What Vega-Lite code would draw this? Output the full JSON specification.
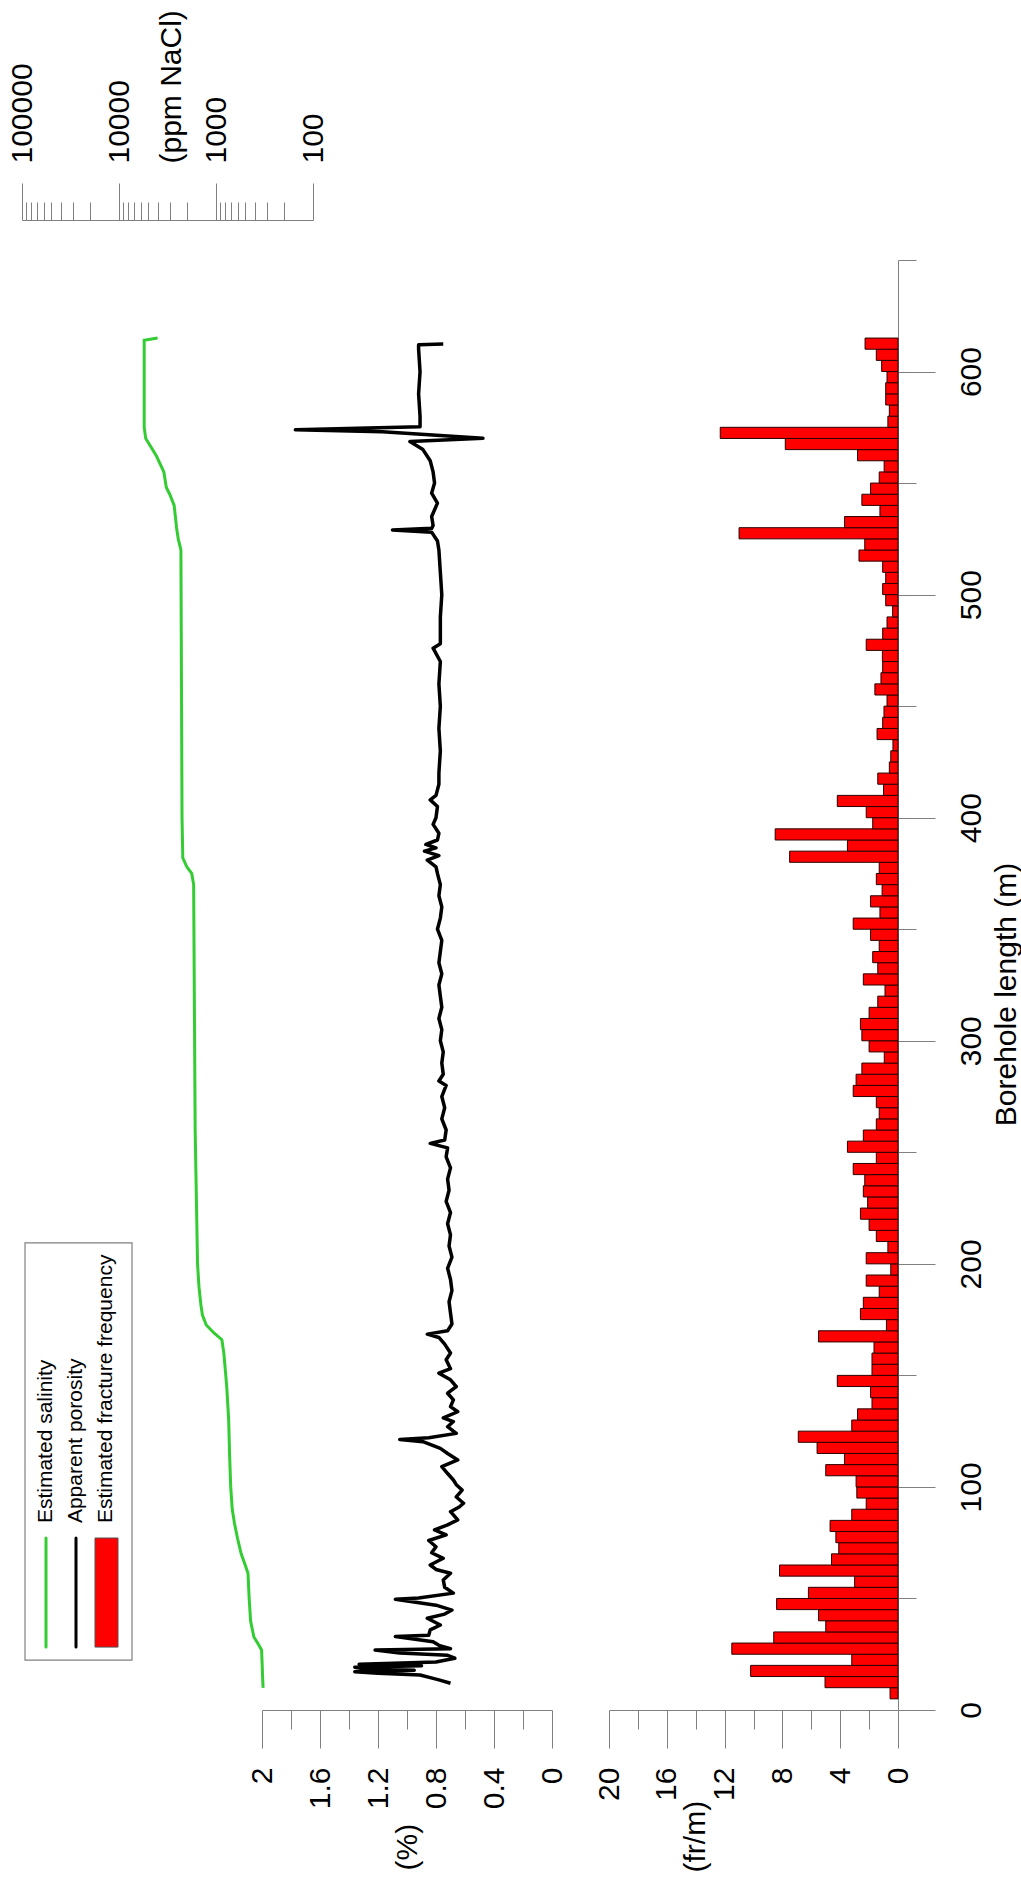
{
  "$schema": "https://vega.github.io/schema/vega-lite/v6.json",
  "width": 898,
  "height": 1450,
  "autosize": {"type": "none"},
  "padding": {"left": 0, "top": 260, "right": 123, "bottom": 169},
  "background": "white",
  "config": {
    "font": "Liberation Sans",
    "view": {"stroke": null},
    "axis": {
      "grid": false,
      "domainColor": "#808080",
      "tickColor": "#808080",
      "domainWidth": 1,
      "tickWidth": 1,
      "labelColor": "#000000",
      "titleColor": "#000000",
      "labelFontSize": 30,
      "titleFontSize": 30,
      "titleFontWeight": "normal",
      "labelFont": "Liberation Sans",
      "titleFont": "Liberation Sans",
      "labelOverlap": false,
      "labelFlush": false,
      "labelBound": false
    }
  },
  "datasets": {
    "salinity": [
      {"depth": 9.9, "ppm": 327}, {"depth": 15, "ppm": 331}, {"depth": 20, "ppm": 334}, {"depth": 26.9, "ppm": 339},
      {"depth": 30, "ppm": 372}, {"depth": 32.7, "ppm": 407}, {"depth": 40, "ppm": 440}, {"depth": 50, "ppm": 455},
      {"depth": 61.3, "ppm": 468}, {"depth": 65, "ppm": 500}, {"depth": 70, "ppm": 550}, {"depth": 77, "ppm": 600},
      {"depth": 83.7, "ppm": 645}, {"depth": 90, "ppm": 680}, {"depth": 100, "ppm": 705}, {"depth": 115, "ppm": 725},
      {"depth": 130, "ppm": 740}, {"depth": 145, "ppm": 775}, {"depth": 160, "ppm": 830}, {"depth": 166, "ppm": 870},
      {"depth": 169, "ppm": 1050}, {"depth": 172.6, "ppm": 1260}, {"depth": 177, "ppm": 1380}, {"depth": 181.5, "ppm": 1430},
      {"depth": 190, "ppm": 1500}, {"depth": 200, "ppm": 1550}, {"depth": 260, "ppm": 1640}, {"depth": 370, "ppm": 1700},
      {"depth": 375, "ppm": 1780}, {"depth": 378, "ppm": 2000}, {"depth": 382, "ppm": 2200}, {"depth": 400, "ppm": 2240},
      {"depth": 520, "ppm": 2300}, {"depth": 525, "ppm": 2450}, {"depth": 530, "ppm": 2550}, {"depth": 540, "ppm": 2700},
      {"depth": 545, "ppm": 3000}, {"depth": 548, "ppm": 3250}, {"depth": 555, "ppm": 3450}, {"depth": 562, "ppm": 4100},
      {"depth": 567, "ppm": 4800}, {"depth": 570, "ppm": 5300}, {"depth": 575, "ppm": 5500}, {"depth": 614, "ppm": 5500},
      {"depth": 615, "ppm": 4000}
    ],
    "porosity": [
      {"depth": 12.0, "pct": 0.70}, {"depth": 13.5, "pct": 0.78}, {"depth": 14.2, "pct": 0.82}, {"depth": 15.7, "pct": 0.91},
      {"depth": 16.5, "pct": 1.20}, {"depth": 17.2, "pct": 1.36}, {"depth": 17.8, "pct": 0.95}, {"depth": 18.5, "pct": 1.30},
      {"depth": 19.2, "pct": 1.36}, {"depth": 19.8, "pct": 0.90}, {"depth": 20.5, "pct": 1.33}, {"depth": 21.5, "pct": 0.80},
      {"depth": 23.2, "pct": 0.67}, {"depth": 24.5, "pct": 0.72}, {"depth": 25.5, "pct": 1.05}, {"depth": 26.9, "pct": 1.22},
      {"depth": 27.5, "pct": 0.70}, {"depth": 29, "pct": 0.78}, {"depth": 30.6, "pct": 0.82}, {"depth": 32.9, "pct": 1.08},
      {"depth": 33.5, "pct": 0.85}, {"depth": 35.9, "pct": 0.84}, {"depth": 38.1, "pct": 0.77}, {"depth": 41.1, "pct": 0.86},
      {"depth": 43, "pct": 0.74}, {"depth": 44.8, "pct": 0.69}, {"depth": 47, "pct": 0.80}, {"depth": 49.6, "pct": 1.08},
      {"depth": 50.2, "pct": 0.92}, {"depth": 52.4, "pct": 0.68}, {"depth": 55, "pct": 0.74}, {"depth": 58.3, "pct": 0.75},
      {"depth": 61.3, "pct": 0.70}, {"depth": 63, "pct": 0.80}, {"depth": 65, "pct": 0.84}, {"depth": 68, "pct": 0.75},
      {"depth": 70.5, "pct": 0.83}, {"depth": 73.2, "pct": 0.80}, {"depth": 76, "pct": 0.85}, {"depth": 78.5, "pct": 0.73},
      {"depth": 80.7, "pct": 0.81}, {"depth": 83, "pct": 0.72}, {"depth": 85.2, "pct": 0.65}, {"depth": 88.9, "pct": 0.70},
      {"depth": 91, "pct": 0.64}, {"depth": 92.7, "pct": 0.61}, {"depth": 95.5, "pct": 0.66}, {"depth": 98.6, "pct": 0.62},
      {"depth": 101, "pct": 0.66}, {"depth": 103.1, "pct": 0.68}, {"depth": 106, "pct": 0.72}, {"depth": 109.1, "pct": 0.76},
      {"depth": 112.1, "pct": 0.65}, {"depth": 115, "pct": 0.72}, {"depth": 117.3, "pct": 0.77}, {"depth": 120.3, "pct": 0.89},
      {"depth": 121.3, "pct": 1.05}, {"depth": 122, "pct": 0.85}, {"depth": 124, "pct": 0.66}, {"depth": 127, "pct": 0.72},
      {"depth": 129.3, "pct": 0.68}, {"depth": 131, "pct": 0.75}, {"depth": 133.7, "pct": 0.65}, {"depth": 136, "pct": 0.70},
      {"depth": 139, "pct": 0.68}, {"depth": 142, "pct": 0.72}, {"depth": 145, "pct": 0.66}, {"depth": 148, "pct": 0.70},
      {"depth": 151, "pct": 0.78}, {"depth": 153, "pct": 0.70}, {"depth": 157, "pct": 0.73}, {"depth": 160, "pct": 0.70},
      {"depth": 164, "pct": 0.74}, {"depth": 167, "pct": 0.78}, {"depth": 168.5, "pct": 0.86}, {"depth": 170, "pct": 0.72},
      {"depth": 173, "pct": 0.69}, {"depth": 178, "pct": 0.70}, {"depth": 183, "pct": 0.71}, {"depth": 188, "pct": 0.69},
      {"depth": 193, "pct": 0.70}, {"depth": 198, "pct": 0.72}, {"depth": 203, "pct": 0.69}, {"depth": 208, "pct": 0.71},
      {"depth": 213, "pct": 0.70}, {"depth": 218, "pct": 0.72}, {"depth": 223, "pct": 0.70}, {"depth": 228, "pct": 0.73},
      {"depth": 233, "pct": 0.71}, {"depth": 238, "pct": 0.72}, {"depth": 243, "pct": 0.70}, {"depth": 248, "pct": 0.73},
      {"depth": 252, "pct": 0.72}, {"depth": 254, "pct": 0.84}, {"depth": 255.5, "pct": 0.74}, {"depth": 260, "pct": 0.73},
      {"depth": 265, "pct": 0.76}, {"depth": 270, "pct": 0.74}, {"depth": 275, "pct": 0.76}, {"depth": 280, "pct": 0.73},
      {"depth": 282, "pct": 0.78}, {"depth": 285, "pct": 0.75}, {"depth": 290, "pct": 0.76}, {"depth": 295, "pct": 0.75},
      {"depth": 300, "pct": 0.77}, {"depth": 305, "pct": 0.76}, {"depth": 310, "pct": 0.78}, {"depth": 315, "pct": 0.76},
      {"depth": 320, "pct": 0.77}, {"depth": 325, "pct": 0.78}, {"depth": 330, "pct": 0.76}, {"depth": 335, "pct": 0.78},
      {"depth": 340, "pct": 0.77}, {"depth": 345, "pct": 0.76}, {"depth": 350, "pct": 0.79}, {"depth": 355, "pct": 0.77},
      {"depth": 360, "pct": 0.76}, {"depth": 365, "pct": 0.78}, {"depth": 370, "pct": 0.77}, {"depth": 375, "pct": 0.79},
      {"depth": 378, "pct": 0.80}, {"depth": 381, "pct": 0.86}, {"depth": 383, "pct": 0.78}, {"depth": 385, "pct": 0.88},
      {"depth": 386.5, "pct": 0.80}, {"depth": 388, "pct": 0.87}, {"depth": 390, "pct": 0.79}, {"depth": 393, "pct": 0.78},
      {"depth": 397, "pct": 0.82}, {"depth": 400, "pct": 0.80}, {"depth": 405, "pct": 0.79}, {"depth": 408, "pct": 0.84},
      {"depth": 410, "pct": 0.80}, {"depth": 415, "pct": 0.78}, {"depth": 420, "pct": 0.78}, {"depth": 430, "pct": 0.77},
      {"depth": 440, "pct": 0.78}, {"depth": 450, "pct": 0.77}, {"depth": 460, "pct": 0.78}, {"depth": 470, "pct": 0.77},
      {"depth": 476, "pct": 0.82}, {"depth": 478, "pct": 0.77}, {"depth": 490, "pct": 0.77}, {"depth": 500, "pct": 0.76},
      {"depth": 510, "pct": 0.77}, {"depth": 520, "pct": 0.78}, {"depth": 524, "pct": 0.79}, {"depth": 528, "pct": 0.83},
      {"depth": 529, "pct": 1.10}, {"depth": 529.7, "pct": 0.83}, {"depth": 531, "pct": 0.82}, {"depth": 535, "pct": 0.83},
      {"depth": 541, "pct": 0.79}, {"depth": 545.5, "pct": 0.83}, {"depth": 550, "pct": 0.81}, {"depth": 555, "pct": 0.82},
      {"depth": 560, "pct": 0.84}, {"depth": 565, "pct": 0.89}, {"depth": 568.6, "pct": 0.98}, {"depth": 570.1, "pct": 0.476},
      {"depth": 573.0, "pct": 1.17}, {"depth": 573.9, "pct": 1.77}, {"depth": 575.3, "pct": 0.91}, {"depth": 580, "pct": 0.91},
      {"depth": 590, "pct": 0.92}, {"depth": 600, "pct": 0.91}, {"depth": 610, "pct": 0.92}, {"depth": 612, "pct": 0.92},
      {"depth": 612.3, "pct": 0.75}
    ],
    "fracture": [
      {"d": 5, "d2": 10, "ff": 0.55}, {"d": 10, "d2": 15, "ff": 5.05}, {"d": 15, "d2": 20, "ff": 10.2}, {"d": 20, "d2": 25, "ff": 3.2},
      {"d": 25, "d2": 30, "ff": 11.5}, {"d": 30, "d2": 35, "ff": 8.6}, {"d": 35, "d2": 40, "ff": 5.0}, {"d": 40, "d2": 45, "ff": 5.5},
      {"d": 45, "d2": 50, "ff": 8.4}, {"d": 50, "d2": 55, "ff": 6.2}, {"d": 55, "d2": 60, "ff": 3.0}, {"d": 60, "d2": 65, "ff": 8.2},
      {"d": 65, "d2": 70, "ff": 4.6}, {"d": 70, "d2": 75, "ff": 4.1}, {"d": 75, "d2": 80, "ff": 4.3}, {"d": 80, "d2": 85, "ff": 4.7},
      {"d": 85, "d2": 90, "ff": 3.2}, {"d": 90, "d2": 95, "ff": 2.2}, {"d": 95, "d2": 100, "ff": 2.85}, {"d": 100, "d2": 105, "ff": 2.9},
      {"d": 105, "d2": 110, "ff": 5.0}, {"d": 110, "d2": 115, "ff": 3.7}, {"d": 115, "d2": 120, "ff": 5.6}, {"d": 120, "d2": 125, "ff": 6.9},
      {"d": 125, "d2": 130, "ff": 3.2}, {"d": 130, "d2": 135, "ff": 2.8}, {"d": 135, "d2": 140, "ff": 1.8}, {"d": 140, "d2": 145, "ff": 1.9},
      {"d": 145, "d2": 150, "ff": 4.2}, {"d": 150, "d2": 155, "ff": 1.8}, {"d": 155, "d2": 160, "ff": 1.8}, {"d": 160, "d2": 165, "ff": 1.66},
      {"d": 165, "d2": 170, "ff": 5.5}, {"d": 170, "d2": 175, "ff": 0.8}, {"d": 175, "d2": 180, "ff": 2.6}, {"d": 180, "d2": 185, "ff": 2.4},
      {"d": 185, "d2": 190, "ff": 1.3}, {"d": 190, "d2": 195, "ff": 2.2}, {"d": 195, "d2": 200, "ff": 0.5}, {"d": 200, "d2": 205, "ff": 2.2},
      {"d": 205, "d2": 210, "ff": 0.7}, {"d": 210, "d2": 215, "ff": 1.5}, {"d": 215, "d2": 220, "ff": 2.0}, {"d": 220, "d2": 225, "ff": 2.6},
      {"d": 225, "d2": 230, "ff": 2.1}, {"d": 230, "d2": 235, "ff": 2.4}, {"d": 235, "d2": 240, "ff": 2.3}, {"d": 240, "d2": 245, "ff": 3.1},
      {"d": 245, "d2": 250, "ff": 1.5}, {"d": 250, "d2": 255, "ff": 3.5}, {"d": 255, "d2": 260, "ff": 2.4}, {"d": 260, "d2": 265, "ff": 1.5},
      {"d": 265, "d2": 270, "ff": 1.3}, {"d": 270, "d2": 275, "ff": 1.5}, {"d": 275, "d2": 280, "ff": 3.1}, {"d": 280, "d2": 285, "ff": 2.9},
      {"d": 285, "d2": 290, "ff": 2.5}, {"d": 290, "d2": 295, "ff": 0.95}, {"d": 295, "d2": 300, "ff": 2.0}, {"d": 300, "d2": 305, "ff": 2.5},
      {"d": 305, "d2": 310, "ff": 2.6}, {"d": 310, "d2": 315, "ff": 2.0}, {"d": 315, "d2": 320, "ff": 1.4}, {"d": 320, "d2": 325, "ff": 0.9},
      {"d": 325, "d2": 330, "ff": 2.4}, {"d": 330, "d2": 335, "ff": 1.4}, {"d": 335, "d2": 340, "ff": 1.75}, {"d": 340, "d2": 345, "ff": 1.3},
      {"d": 345, "d2": 350, "ff": 1.9}, {"d": 350, "d2": 355, "ff": 3.1}, {"d": 355, "d2": 360, "ff": 1.25}, {"d": 360, "d2": 365, "ff": 1.9},
      {"d": 365, "d2": 370, "ff": 1.1}, {"d": 370, "d2": 375, "ff": 1.5}, {"d": 375, "d2": 380, "ff": 1.3}, {"d": 380, "d2": 385, "ff": 7.5},
      {"d": 385, "d2": 390, "ff": 3.5}, {"d": 390, "d2": 395, "ff": 8.5}, {"d": 395, "d2": 400, "ff": 1.75}, {"d": 400, "d2": 405, "ff": 2.2},
      {"d": 405, "d2": 410, "ff": 4.2}, {"d": 410, "d2": 415, "ff": 1.0}, {"d": 415, "d2": 420, "ff": 1.4}, {"d": 420, "d2": 425, "ff": 0.6},
      {"d": 425, "d2": 430, "ff": 0.5}, {"d": 430, "d2": 435, "ff": 0.35}, {"d": 435, "d2": 440, "ff": 1.45}, {"d": 440, "d2": 445, "ff": 1.06},
      {"d": 445, "d2": 450, "ff": 0.97}, {"d": 450, "d2": 455, "ff": 0.76}, {"d": 455, "d2": 460, "ff": 1.6}, {"d": 460, "d2": 465, "ff": 1.18},
      {"d": 465, "d2": 470, "ff": 1.06}, {"d": 470, "d2": 475, "ff": 1.08}, {"d": 475, "d2": 480, "ff": 2.2}, {"d": 480, "d2": 485, "ff": 1.06},
      {"d": 485, "d2": 490, "ff": 0.76}, {"d": 490, "d2": 495, "ff": 0.37}, {"d": 495, "d2": 500, "ff": 0.85}, {"d": 500, "d2": 505, "ff": 1.06},
      {"d": 505, "d2": 510, "ff": 0.85}, {"d": 510, "d2": 515, "ff": 1.06}, {"d": 515, "d2": 520, "ff": 2.7}, {"d": 520, "d2": 525, "ff": 2.3},
      {"d": 525, "d2": 530, "ff": 11.0}, {"d": 530, "d2": 535, "ff": 3.7}, {"d": 535, "d2": 540, "ff": 1.25}, {"d": 540, "d2": 545, "ff": 2.5},
      {"d": 545, "d2": 550, "ff": 1.9}, {"d": 550, "d2": 555, "ff": 1.3}, {"d": 555, "d2": 560, "ff": 0.96}, {"d": 560, "d2": 565, "ff": 2.8},
      {"d": 565, "d2": 570, "ff": 7.8}, {"d": 570, "d2": 575, "ff": 12.3}, {"d": 575, "d2": 580, "ff": 0.7}, {"d": 580, "d2": 585, "ff": 0.6},
      {"d": 585, "d2": 590, "ff": 0.85}, {"d": 590, "d2": 595, "ff": 0.85}, {"d": 595, "d2": 600, "ff": 0.76}, {"d": 600, "d2": 605, "ff": 1.13},
      {"d": 605, "d2": 610, "ff": 1.5}, {"d": 610, "d2": 615, "ff": 2.28}
    ],
    "legend": [
      {"part": "box", "lx": 0.3, "lx2": 3.867, "d": 22.4, "d2": 209.4},
      {"part": "sal", "lx": 1, "d": 28.2, "d2": 77.1},
      {"part": "por", "lx": 2, "d": 28.2, "d2": 77.1},
      {"part": "frac", "lx": 2.633, "lx2": 3.4, "d": 28.2, "d2": 77.1},
      {"part": "text", "lx": 1, "d": 83.8, "label": "Estimated salinity"},
      {"part": "text", "lx": 2, "d": 83.8, "label": "Apparent porosity"},
      {"part": "text", "lx": 3, "d": 83.8, "label": "Estimated fracture frequency"}
    ]
  },
  "layer": [
    {
      "data": {"name": "salinity"},
      "mark": {"type": "line", "color": "#33cc33", "strokeWidth": 3},
      "encoding": {
        "x": {
          "field": "ppm", "type": "quantitative",
          "scale": {"type": "log", "domain": [100, 100000], "range": [313, 22]},
          "axis": {
            "orient": "top", "offset": 40,
            "values": [100, 200, 300, 400, 500, 600, 700, 800, 900, 1000, 2000, 3000, 4000, 5000, 6000, 7000, 8000, 9000, 10000, 20000, 30000, 40000, 50000, 60000, 70000, 80000, 90000, 100000],
            "format": "d",
            "labelExpr": "abs(log(datum.value)/LN10 - round(log(datum.value)/LN10)) < 0.001 ? datum.label : ''",
            "tickSize": {"condition": {"test": "abs(log(datum.value)/LN10 - round(log(datum.value)/LN10)) < 0.001", "value": 37}, "value": 18},
            "labelAngle": -90, "labelAlign": "left", "labelBaseline": "middle", "labelPadding": 20,
            "title": "(ppm NaCl)", "titleAngle": -90, "titleAlign": "left", "titleBaseline": "middle",
            "titleX": 171, "titleY": -57
          }
        },
        "y": {
          "field": "depth", "type": "quantitative",
          "scale": {"domain": [0, 650], "nice": false, "zero": false},
          "axis": {
            "orient": "right",
            "values": [0, 50, 100, 150, 200, 250, 300, 350, 400, 450, 500, 550, 600, 650],
            "format": "d",
            "labelExpr": "datum.value % 100 == 0 ? datum.label : ''",
            "tickSize": {"condition": {"test": "datum.value % 100 == 0", "value": 37}, "value": 18},
            "labelAngle": -90, "labelAlign": "center", "labelBaseline": "top", "labelPadding": 21,
            "title": "Borehole length (m)", "titleAngle": -90, "titleAlign": "center", "titleBaseline": "top",
            "titleX": 93, "titleY": 734
          }
        },
        "order": {"field": "depth"}
      }
    },
    {
      "data": {"name": "porosity"},
      "mark": {"type": "line", "color": "#000000", "strokeWidth": 3.5, "strokeJoin": "round"},
      "encoding": {
        "x": {
          "field": "pct", "type": "quantitative",
          "scale": {"domain": [0, 2], "range": [552, 262]},
          "axis": {
            "orient": "bottom",
            "values": [0, 0.2, 0.4, 0.6, 0.8, 1, 1.2, 1.4, 1.6, 1.8, 2],
            "format": "~g",
            "labelExpr": "round(datum.value*10) % 4 == 0 ? datum.label : ''",
            "tickSize": {"condition": {"test": "round(datum.value*10) % 4 == 0", "value": 38}, "value": 19},
            "labelAngle": -90, "labelAlign": "right", "labelBaseline": "middle", "labelPadding": 19,
            "title": "(%)", "titleAngle": -90, "titleAlign": "left", "titleBaseline": "middle",
            "titleX": 407, "titleY": 160
          }
        },
        "y": {"field": "depth", "type": "quantitative", "scale": {"domain": [0, 650], "nice": false, "zero": false}},
        "order": {"field": "depth"}
      }
    },
    {
      "data": {"name": "fracture"},
      "mark": {"type": "rect", "fill": "#ff0000", "stroke": "#2a0000", "strokeWidth": 1},
      "encoding": {
        "x": {
          "field": "ff", "type": "quantitative",
          "scale": {"domain": [0, 20], "range": [898, 609]},
          "axis": {
            "orient": "bottom",
            "values": [0, 2, 4, 6, 8, 10, 12, 14, 16, 18, 20],
            "format": "d",
            "labelExpr": "datum.value % 4 == 0 ? datum.label : ''",
            "tickSize": {"condition": {"test": "datum.value % 4 == 0", "value": 38}, "value": 19},
            "labelAngle": -90, "labelAlign": "right", "labelBaseline": "middle", "labelPadding": 19,
            "title": "(fr/m)", "titleAngle": -90, "titleAlign": "left", "titleBaseline": "middle",
            "titleX": 695, "titleY": 162
          }
        },
        "x2": {"datum": 0},
        "y": {"field": "d", "type": "quantitative", "scale": {"domain": [0, 650], "nice": false, "zero": false}},
        "y2": {"field": "d2"}
      }
    },
    {
      "data": {"name": "legend"},
      "layer": [
        {
          "transform": [{"filter": "datum.part == 'box'"}],
          "mark": {"type": "rect", "fill": "#ffffff", "stroke": "#808080", "strokeWidth": 1.2},
          "encoding": {
            "x": {"field": "lx", "type": "quantitative", "scale": {"domain": [0, 4], "range": [16, 136]}, "axis": null},
            "x2": {"field": "lx2"},
            "y": {"field": "d", "type": "quantitative", "scale": {"domain": [0, 650], "nice": false, "zero": false}},
            "y2": {"field": "d2"}
          }
        },
        {
          "transform": [{"filter": "datum.part == 'sal'"}],
          "mark": {"type": "rule", "color": "#33cc33", "strokeWidth": 3, "strokeCap": "round"},
          "encoding": {
            "x": {"field": "lx", "type": "quantitative", "scale": {"domain": [0, 4], "range": [16, 136]}, "axis": null},
            "y": {"field": "d", "type": "quantitative", "scale": {"domain": [0, 650], "nice": false, "zero": false}},
            "y2": {"field": "d2"}
          }
        },
        {
          "transform": [{"filter": "datum.part == 'por'"}],
          "mark": {"type": "rule", "color": "#000000", "strokeWidth": 3, "strokeCap": "round"},
          "encoding": {
            "x": {"field": "lx", "type": "quantitative", "scale": {"domain": [0, 4], "range": [16, 136]}, "axis": null},
            "y": {"field": "d", "type": "quantitative", "scale": {"domain": [0, 650], "nice": false, "zero": false}},
            "y2": {"field": "d2"}
          }
        },
        {
          "transform": [{"filter": "datum.part == 'frac'"}],
          "mark": {"type": "rect", "fill": "#ff0000", "stroke": "#555555", "strokeWidth": 1},
          "encoding": {
            "x": {"field": "lx", "type": "quantitative", "scale": {"domain": [0, 4], "range": [16, 136]}, "axis": null},
            "x2": {"field": "lx2"},
            "y": {"field": "d", "type": "quantitative", "scale": {"domain": [0, 650], "nice": false, "zero": false}},
            "y2": {"field": "d2"}
          }
        },
        {
          "transform": [{"filter": "datum.part == 'text'"}],
          "mark": {"type": "text", "angle": 270, "align": "left", "baseline": "middle", "fontSize": 21, "font": "Liberation Sans", "color": "#000000"},
          "encoding": {
            "x": {"field": "lx", "type": "quantitative", "scale": {"domain": [0, 4], "range": [16, 136]}, "axis": null},
            "y": {"field": "d", "type": "quantitative", "scale": {"domain": [0, 650], "nice": false, "zero": false}},
            "text": {"field": "label"}
          }
        }
      ]
    }
  ],
  "resolve": {"scale": {"x": "independent"}, "axis": {"x": "independent"}}
}
